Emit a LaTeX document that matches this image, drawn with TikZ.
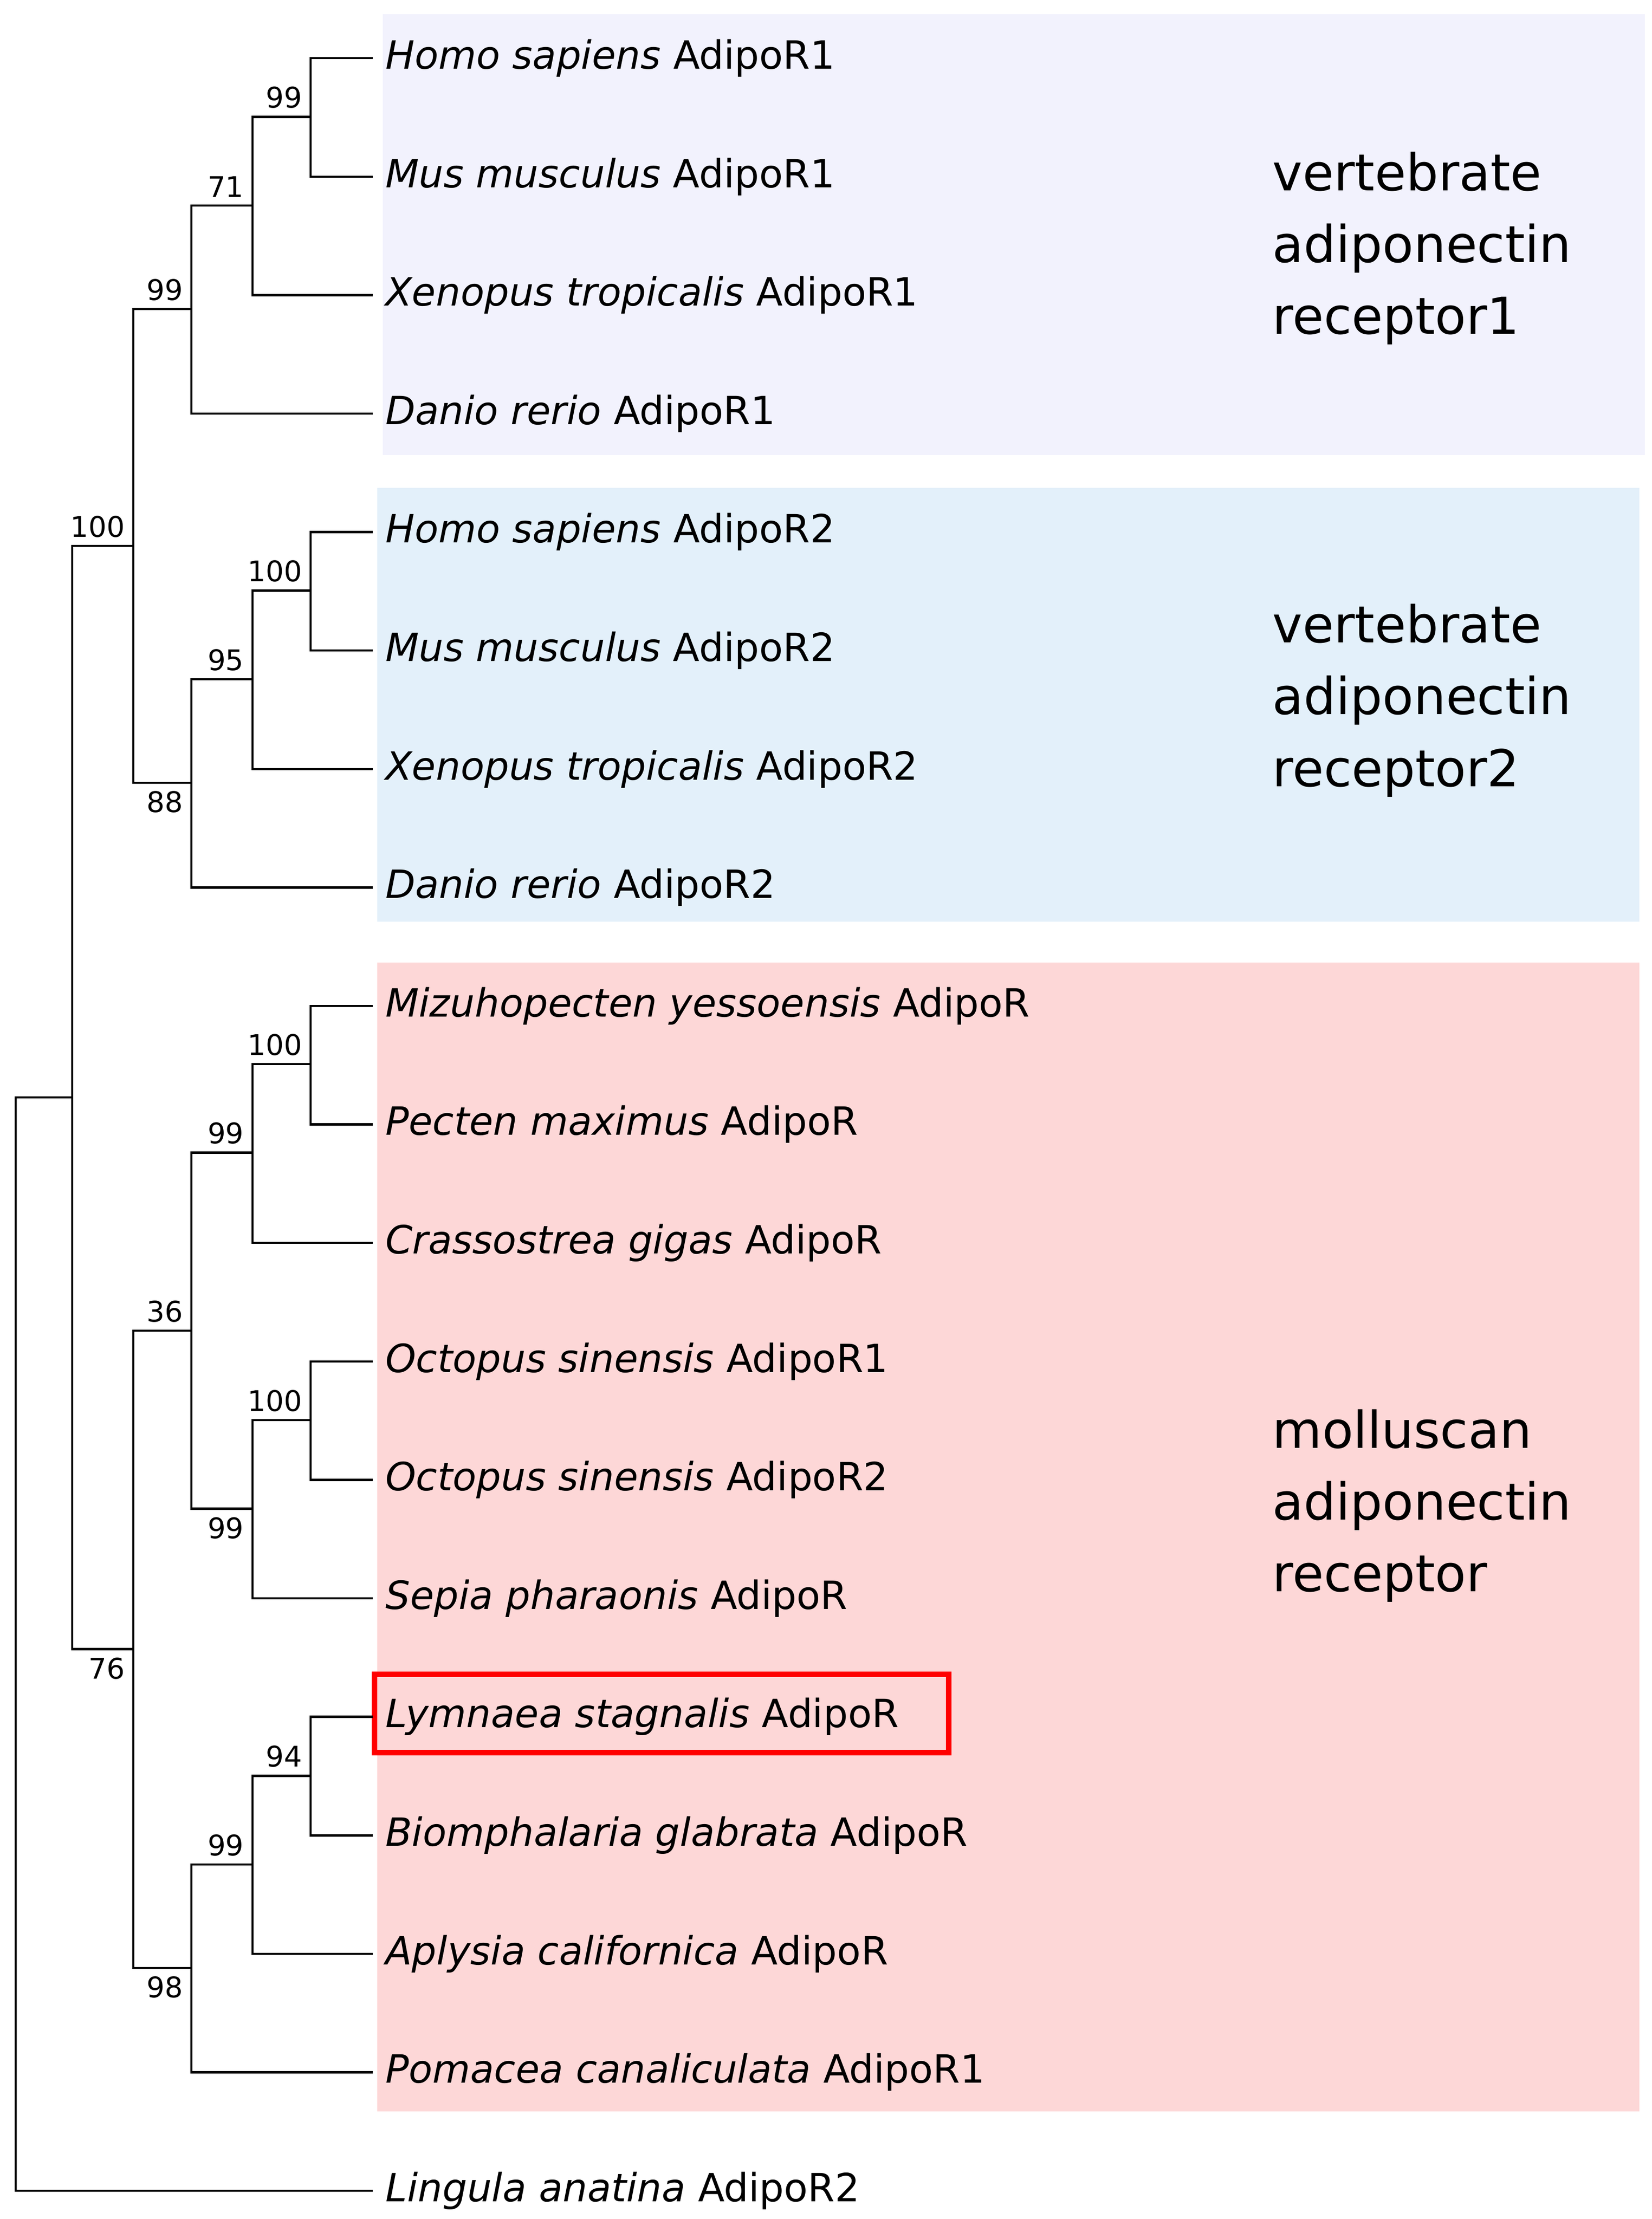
\documentclass[tikz,border=0pt]{standalone}
\usepackage{fontspec}
\setmainfont{DejaVu Sans}
\usetikzlibrary{positioning}
\definecolor{boxone}{HTML}{F2F2FD}
\definecolor{boxtwo}{HTML}{E3F0FA}
\definecolor{boxmol}{HTML}{FDD7D7}
\begin{document}
\begin{tikzpicture}[
    x=0.01cm, y=-0.01cm,
    line width=0.45pt,
    leaf/.style={anchor=west, inner xsep=0.08cm, inner ysep=0pt, font=\fontsize{7.8}{9}\selectfont},
    bs/.style={font=\fontsize{5.7}{6}\selectfont, inner sep=1.5pt},
    group/.style={anchor=west, align=left, font=\fontsize{10.2}{14.4}\selectfont}
]
\useasboundingbox (0,0) rectangle (1165,1565);

% Background boxes
\fill[boxone] (270,10) rectangle (1160,321);
\fill[boxtwo] (266,344) rectangle (1156,650);
\fill[boxmol] (266,679) rectangle (1156,1489);

% Group labels
\node[group] (grpone) at (885,175) {vertebrate\\adiponectin\\receptor1};
\node[group] (grptwo) at (885,494) {vertebrate\\adiponectin\\receptor2};
\node[group] (grpmol) at (885,1062) {molluscan\\adiponectin\\receptor};

% Leaves
\foreach \name/\row/\sp/\gene in {
    hsone/0/Homo sapiens/AdipoR1, mmone/1/Mus musculus/AdipoR1,
    xtone/2/Xenopus tropicalis/AdipoR1, drone/3/Danio rerio/AdipoR1,
    hstwo/4/Homo sapiens/AdipoR2, mmtwo/5/Mus musculus/AdipoR2,
    xttwo/6/Xenopus tropicalis/AdipoR2, drtwo/7/Danio rerio/AdipoR2,
    myes/8/Mizuhopecten yessoensis/AdipoR, pmax/9/Pecten maximus/AdipoR,
    cgig/10/Crassostrea gigas/AdipoR, osinone/11/Octopus sinensis/AdipoR1,
    osintwo/12/Octopus sinensis/AdipoR2, spha/13/Sepia pharaonis/AdipoR,
    lsta/14/Lymnaea stagnalis/AdipoR, bgla/15/Biomphalaria glabrata/AdipoR,
    acal/16/Aplysia californica/AdipoR, pcan/17/Pomacea canaliculata/AdipoR1,
    lana/18/Lingula anatina/AdipoR2}
  \node[leaf] (\name) at (263,{41+83.56*\row}) {\textit{\sp} \gene};

% Highlight
\draw[red, line width=1.1pt] (264,1181) rectangle (669,1236);

% Internal nodes
\coordinate (ronea) at (219,82.5);
\coordinate (roneb) at (178,145);
\coordinate (ronec) at (135,218);
\coordinate (rtwoa) at (219,416.5);
\coordinate (rtwob) at (178,479);
\coordinate (rtwoc) at (135,552);
\coordinate (vert) at (94,385);
\coordinate (peca) at (219,750.5);
\coordinate (pecb) at (178,813);
\coordinate (ceph) at (219,1001.5);
\coordinate (cephb) at (178,1064);
\coordinate (bival) at (135,938.5);
\coordinate (gasa) at (219,1252.5);
\coordinate (gasb) at (178,1315);
\coordinate (gasc) at (135,1388);
\coordinate (moll) at (94,1163);
\coordinate (ingr) at (51,774);
\coordinate (root) at (11,1160);

% Branches
\draw (ronea) |- (hsone.west);  \draw (ronea) |- (mmone.west);
\draw (roneb) |- (ronea);       \draw (roneb) |- (xtone.west);
\draw (ronec) |- (roneb);       \draw (ronec) |- (drone.west);
\draw (rtwoa) |- (hstwo.west);  \draw (rtwoa) |- (mmtwo.west);
\draw (rtwob) |- (rtwoa);       \draw (rtwob) |- (xttwo.west);
\draw (rtwoc) |- (rtwob);       \draw (rtwoc) |- (drtwo.west);
\draw (vert) |- (ronec);        \draw (vert) |- (rtwoc);
\draw (peca) |- (myes.west);    \draw (peca) |- (pmax.west);
\draw (pecb) |- (peca);         \draw (pecb) |- (cgig.west);
\draw (ceph) |- (osinone.west); \draw (ceph) |- (osintwo.west);
\draw (cephb) |- (ceph);        \draw (cephb) |- (spha.west);
\draw (bival) |- (pecb);        \draw (bival) |- (cephb);
\draw (gasa) |- (lsta.west);    \draw (gasa) |- (bgla.west);
\draw (gasb) |- (gasa);         \draw (gasb) |- (acal.west);
\draw (gasc) |- (gasb);         \draw (gasc) |- (pcan.west);
\draw (moll) |- (bival);        \draw (moll) |- (gasc);
\draw (ingr) |- (vert);         \draw (ingr) |- (moll);
\draw (root) |- (ingr);         \draw (root) |- (lana.west);

% Bootstrap values
\node[bs, above left] at (ronea) {99};
\node[bs, above left] at (roneb) {71};
\node[bs, above left] at (ronec) {99};
\node[bs, above left] at (rtwoa) {100};
\node[bs, above left] at (rtwob) {95};
\node[bs, below left] at (rtwoc) {88};
\node[bs, above left] at (vert) {100};
\node[bs, above left] at (peca) {100};
\node[bs, above left] at (pecb) {99};
\node[bs, above left] at (ceph) {100};
\node[bs, below left] at (cephb) {99};
\node[bs, above left] at (bival) {36};
\node[bs, above left] at (gasa) {94};
\node[bs, above left] at (gasb) {99};
\node[bs, below left] at (gasc) {98};
\node[bs, below left] at (moll) {76};

\end{tikzpicture}
\end{document}
